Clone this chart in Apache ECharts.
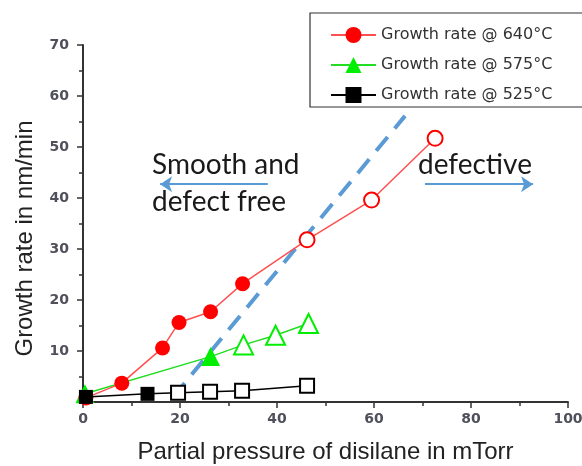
<!DOCTYPE html>
<html><head><meta charset="utf-8">
<script src="https://cdn.jsdelivr.net/npm/echarts@6/dist/echarts.min.js"></script>
<style>html,body{margin:0;padding:0;background:#fff}#c{width:582px;height:466px}</style>
</head><body><div id="c"></div>
<script>
// Data (x = partial pressure in mTorr, y = growth rate nm/min)
const red640X = [0.6, 8.0, 16.4, 19.8, 26.3, 32.9, 46.2, 59.5, 72.6];
const red640Y = [0.8, 3.7, 10.6, 15.6, 17.7, 23.2, 31.8, 39.6, 51.7];
const red640Open = [false, false, false, false, false, false, true, true, true];

const green575X = [0.4, 26.3, 33.1, 39.7, 46.5];
const green575Y = [1.6, 8.9, 11.2, 13.1, 15.4];
const green575Open = [false, false, true, true, true];

const black525X = [0.6, 13.3, 19.6, 26.2, 32.8, 46.2];
const black525Y = [1.0, 1.6, 1.8, 2.0, 2.2, 3.2];
const black525Open = [false, false, true, true, true, true];

const boundaryX = [18.6, 66.4];
const boundaryY = [1.0, 56.1];

const seriesNames = ['Growth rate @ 640°C', 'Growth rate @ 575°C', 'Growth rate @ 525°C'];
const xTicks = [0, 20, 40, 60, 80, 100];
const yTicks = [0, 10, 20, 30, 40, 50, 60, 70];

function pts(xs, ys, open, emptySym) {
  return xs.map((x, i) => open[i] ? {value: [x, ys[i]], symbol: emptySym} : {value: [x, ys[i]]});
}

const chart = echarts.init(document.getElementById('c'));
const axisFont = {color: '#50505c', fontSize: 14, fontWeight: 'bold', fontFamily: 'DejaVu Sans'};
chart.setOption({
  animation: false,
  grid: {left: 83, right: 14, top: 45, bottom: 64, containLabel: false, outerBoundsMode: 'none'},
  legend: {
    orient: 'vertical', left: 310, top: 13,
    data: seriesNames,
    itemWidth: 45, itemHeight: 20, itemGap: 14,
    padding: [14, 40, 4, 20],
    borderColor: '#333', borderWidth: 1.2,
    textStyle: {fontSize: 16, color: '#333', fontFamily: 'DejaVu Sans'}
  },
  xAxis: {
    type: 'value', min: xTicks[0], max: xTicks[xTicks.length - 1], interval: 20,
    name: 'Partial pressure of disilane in mTorr', nameLocation: 'middle', nameGap: 38,
    nameTextStyle: {fontSize: 24, color: '#222', fontFamily: 'Liberation Sans, Arial'},
    axisLine: {lineStyle: {color: '#333', width: 2}},
    axisTick: {length: 6, lineStyle: {color: '#333', width: 1.5}},
    minorTick: {show: true, splitNumber: 2, length: 4, lineStyle: {color: '#333', width: 1.5}},
    axisLabel: Object.assign({margin: 10}, axisFont),
    splitLine: {show: false}
  },
  yAxis: {
    type: 'value', min: yTicks[0], max: yTicks[yTicks.length - 1], interval: 10,
    name: 'Growth rate in nm/min', nameLocation: 'middle', nameGap: 46,
    nameTextStyle: {fontSize: 24, color: '#222', fontFamily: 'Liberation Sans, Arial', padding: [0, 30, 0, 0]},
    axisLine: {show: true, lineStyle: {color: '#333', width: 2}},
    axisTick: {show: true, length: 6, lineStyle: {color: '#333', width: 1.5}},
    minorTick: {show: true, splitNumber: 2, length: 4, lineStyle: {color: '#333', width: 1.5}},
    axisLabel: Object.assign({margin: 14, showMinLabel: false}, axisFont),
    splitLine: {show: false}
  },
  series: [
    {
      name: 'boundary', type: 'line', data: boundaryX.map((x, i) => [x, boundaryY[i]]),
      symbol: 'none', lineStyle: {color: '#5b9bd5', width: 4, type: [18, 11]}, z: 1,
      markLine: {
        silent: true, symbol: ['none', 'arrow'], symbolSize: [12, 12],
        label: {show: false},
        lineStyle: {color: '#5b9bd5', width: 2, type: 'solid'},
        data: [
          [{coord: [38.1, 42.7]}, {coord: [15.9, 42.7]}],
          [{coord: [70.5, 42.7]}, {coord: [92.8, 42.7]}]
        ]
      }
    },
    {
      name: seriesNames[0], type: 'line', data: pts(red640X, red640Y, red640Open, 'emptyCircle'),
      symbol: 'circle', symbolSize: 15, color: '#ff0000',
      lineStyle: {color: '#ff5050', width: 1.5}, itemStyle: {color: '#ff0000', borderWidth: 1.2}, z: 4
    },
    {
      name: seriesNames[1], type: 'line', data: pts(green575X, green575Y, green575Open, 'emptyTriangle'),
      symbol: 'triangle', symbolSize: 19, color: '#00ee00',
      lineStyle: {color: '#22dd22', width: 1.5}, itemStyle: {color: '#00ee00', borderWidth: 1.2}, z: 3
    },
    {
      name: seriesNames[2], type: 'line', data: pts(black525X, black525Y, black525Open, 'emptyRect'),
      symbol: 'rect', symbolSize: 14, color: '#000',
      lineStyle: {color: '#000', width: 1.5}, itemStyle: {color: '#000', borderWidth: 1.3}, z: 5
    }
  ],
  graphic: [
    {type: 'text', left: 152, top: 146, style: {text: 'Smooth and\ndefect free', fill: '#1a1a1a', font: '28px Lato', lineHeight: 37}},
    {type: 'text', left: 418, top: 146, style: {text: 'defective', fill: '#1a1a1a', font: '28px Lato', lineHeight: 37}}
  ]
});
</script></body></html>
